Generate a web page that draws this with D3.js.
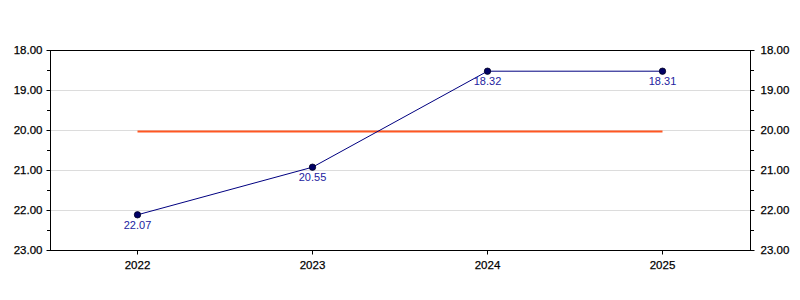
<!DOCTYPE html>
<html><head><meta charset="utf-8">
<script src="https://cdn.jsdelivr.net/npm/d3@7"></script>
<style>body{margin:0;background:#fff}svg{display:block}text{font-family:"Liberation Sans",Arial,sans-serif}</style>
</head><body><svg id="c" width="800" height="300"></svg>
<script>
const categories = ["2022", "2023", "2024", "2025"];
const values = [22.12, 20.93, 18.53, 18.53];
const valueLabels = ["22.07", "20.55", "18.32", "18.31"];
const targetValue = 20.04;
const yTicks = [18, 19, 20, 21, 22, 23];
const yMinorTicks = [18.5, 19.5, 20.5, 21.5, 22.5];
const yDomain = [18, 23];

const svg = d3.select("#c");
const L = 50, R = 750, T = 50, B = 250;
const x = d3.scaleBand().domain(categories).range([L, R]);
const y = d3.scaleLinear().domain(yDomain).range([T, B]);
const cx = d => x(d) + x.bandwidth() / 2;

// gridlines
svg.append("g").selectAll("line").data(yTicks.filter(v => v !== yDomain[0] && v !== yDomain[1]))
  .join("line").attr("x1", L).attr("x2", R)
  .attr("y1", d => Math.round(y(d)) + 0.5).attr("y2", d => Math.round(y(d)) + 0.5)
  .attr("stroke", "#dcdcdc").attr("stroke-width", 1);

// frame top
svg.append("line").attr("x1", L).attr("x2", R).attr("y1", T + 0.5).attr("y2", T + 0.5).attr("stroke", "#000");

const fmt = d3.format(".2f");
const leftAxis = d3.axisLeft(y).tickValues(yTicks).tickFormat(fmt).tickSize(4).tickPadding(4);
const rightAxis = d3.axisRight(y).tickValues(yTicks).tickFormat(fmt).tickSize(4).tickPadding(6);
function style(g){
  g.select(".domain").attr("stroke", "#000");
  g.selectAll(".tick line").attr("stroke", "#000");
  g.selectAll(".tick text").attr("fill", "#000").attr("font-size", 11.5)
    .attr("stroke", "#000").attr("stroke-width", 0.25)
    .attr("font-family", "Liberation Sans, Arial, sans-serif");
}
svg.append("g").attr("transform", `translate(${L + 0.5},0)`).call(leftAxis).call(style)
  .call(g => g.select(".domain").attr("d", `M0,${T}V${B}`));
svg.append("g").attr("transform", `translate(${R + 0.5},0)`).call(rightAxis).call(style)
  .call(g => g.select(".domain").attr("d", `M0,${T}V${B}`));
svg.append("g").selectAll("line").data(yMinorTicks).join("line")
  .attr("x1", L - 3).attr("x2", L).attr("y1", d => Math.round(y(d)) + 0.5).attr("y2", d => Math.round(y(d)) + 0.5).attr("stroke", "#000");
svg.append("g").selectAll("line").data(yMinorTicks).join("line")
  .attr("x1", R + 1).attr("x2", R + 4).attr("y1", d => Math.round(y(d)) + 0.5).attr("y2", d => Math.round(y(d)) + 0.5).attr("stroke", "#000");

const bottomAxis = d3.axisBottom(x).tickSize(4).tickPadding(6);
svg.append("g").attr("transform", `translate(0,${B + 0.5})`).call(bottomAxis).call(style)
  .call(g => g.select(".domain").attr("d", `M${L},0H${R + 1}`));

// target line
svg.append("line").attr("x1", cx(categories[0])).attr("x2", cx(categories[categories.length - 1]))
  .attr("y1", y(targetValue)).attr("y2", y(targetValue))
  .attr("stroke", "#ff5722").attr("stroke-width", 2);

// series
const data = categories.map((c, i) => ({c, v: values[i], l: valueLabels[i]}));
svg.append("path").datum(data)
  .attr("d", d3.line().x(d => cx(d.c)).y(d => y(d.v)))
  .attr("fill", "none").attr("stroke", "#000080").attr("stroke-width", 1);
svg.append("g").selectAll("circle").data(data).join("circle")
  .attr("cx", d => cx(d.c)).attr("cy", d => y(d.v)).attr("r", 3.2)
  .attr("fill", "#000066").attr("stroke", "#000022").attr("stroke-width", 0.8);
svg.append("g").selectAll("text").data(data).join("text")
  .attr("x", d => cx(d.c)).attr("y", d => y(d.v) + 14)
  .attr("text-anchor", "middle").attr("font-size", 11).attr("fill", "#2222a0")
  .text(d => d.l);
</script></body></html>
